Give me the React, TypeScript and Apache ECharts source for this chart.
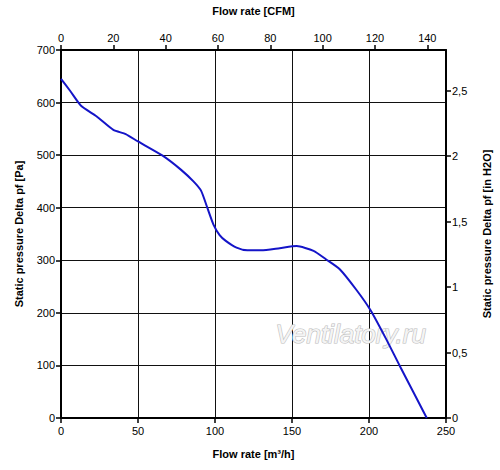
import React, { useEffect, useRef } from "react";
import * as echarts from "echarts";

const flowM3h: number[] = [0, 6, 13, 23, 34, 42, 50, 66, 78, 86, 91, 95, 99, 103, 107, 114, 121, 130, 142, 153, 164, 172, 181, 192, 201, 211, 220, 237.5];
const pressurePa: number[] = [645, 622, 594, 574, 548, 540, 526, 499, 472, 450, 432, 400, 368, 348, 337, 324, 319, 319, 323, 327, 318, 302, 283, 243, 205, 151, 99, 0];

const xMaxM3h = 250;
const yMaxPa = 700;
const m3hPerCfm = 1.699;
const paPerInH2O = 249.089;

const FONT = "'Liberation Sans', Arial, sans-serif";

export default function App() {
  const ref = useRef<HTMLDivElement>(null);
  useEffect(() => {
    document.body.style.margin = "0";
    const chart = echarts.init(ref.current!, null, { renderer: "svg" });
    const data = flowM3h.map((x, i) => [x, pressurePa[i]]);
    const labelStyle = { color: "#000", fontSize: 11, fontFamily: FONT };
    const nameStyle = { color: "#000", fontSize: 11, fontWeight: "bold" as const, fontFamily: FONT };
    const axisLine = { show: true, onZero: false, lineStyle: { color: "#000", width: 2 } };
    const tick = { show: true, inside: false, length: 5, lineStyle: { color: "#000", width: 1.5 } };
    chart.setOption({
      animation: false,
      backgroundColor: "#fff",
      grid: { left: 61, right: 54, top: 46, bottom: 52, containLabel: false },
      xAxis: [
        {
          type: "value",
          position: "bottom",
          min: 0,
          max: xMaxM3h,
          interval: 50,
          name: "Flow rate [m³/h]",
          nameLocation: "middle",
          nameGap: 30,
          nameTextStyle: nameStyle,
          axisLine,
          axisTick: tick,
          axisLabel: { ...labelStyle, margin: 7 },
          splitLine: { show: true, lineStyle: { color: "#111", width: 1 } },
        },
        {
          type: "value",
          position: "top",
          min: 0,
          max: xMaxM3h / m3hPerCfm,
          interval: 20,
          name: "Flow rate [CFM]",
          nameLocation: "middle",
          nameGap: 34,
          nameTextStyle: nameStyle,
          axisLine,
          axisTick: tick,
          axisLabel: { ...labelStyle, margin: 7, showMaxLabel: false },
          splitLine: { show: false },
        },
      ],
      yAxis: [
        {
          type: "value",
          position: "left",
          min: 0,
          max: yMaxPa,
          interval: 100,
          name: "Static pressure Delta pf [Pa]",
          nameLocation: "middle",
          nameGap: 37,
          nameRotate: 90,
          nameTextStyle: nameStyle,
          axisLine,
          axisTick: tick,
          axisLabel: { ...labelStyle, margin: 6 },
          splitLine: { show: true, lineStyle: { color: "#111", width: 1 } },
        },
        {
          type: "value",
          position: "right",
          min: 0,
          max: yMaxPa / paPerInH2O,
          interval: 0.5,
          name: "Static pressure Delta pf [in H2O]",
          nameLocation: "middle",
          nameGap: 35,
          nameRotate: 90,
          nameTextStyle: nameStyle,
          axisLine,
          axisTick: tick,
          axisLabel: {
            ...labelStyle,
            margin: 6,
            showMaxLabel: false,
            formatter: (v: number) => String(v).replace(".", ","),
          },
          splitLine: { show: false },
        },
      ],
      graphic: [
        {
          type: "text",
          left: 275,
          top: 320,
          z: 1,
          style: {
            text: "Ventilatory.ru",
            fontSize: 26,
            fontStyle: "italic",
            fontFamily: FONT,
            fill: "#f4f4f4",
            stroke: "#bdbdbd",
            lineWidth: 1.2,
          },
        },
      ],
      series: [
        {
          type: "line",
          xAxisIndex: 0,
          yAxisIndex: 0,
          data,
          smooth: 0.2,
          showSymbol: false,
          z: 5,
          lineStyle: { color: "#1414c8", width: 2 },
        },
      ],
    });
    return () => chart.dispose();
  }, []);
  return <div ref={ref} style={{ width: 500, height: 470 }} />;
}
